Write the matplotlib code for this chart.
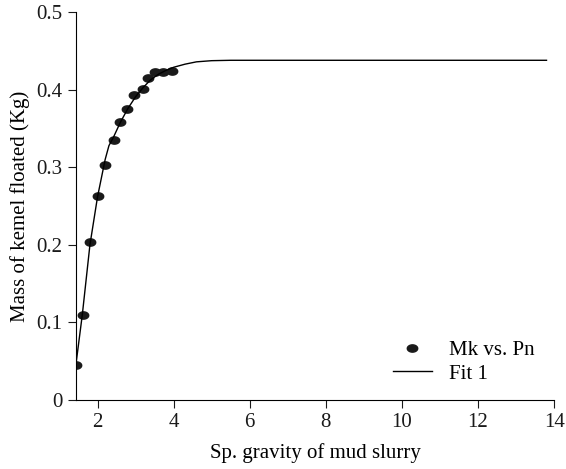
import numpy as np
import matplotlib.pyplot as plt
from matplotlib.path import Path

plt.rcParams['font.family'] = ['Liberation Serif', 'DejaVu Serif']

# measured points (Mk vs. Pn)
sp_gravity = [1.43, 1.62, 1.8, 2.02, 2.2, 2.42, 2.6, 2.78, 2.97, 3.2, 3.33, 3.52, 3.71, 3.95]
mass = [0.045, 0.110, 0.204, 0.263, 0.303, 0.335, 0.359, 0.375, 0.393, 0.401, 0.415, 0.423, 0.423, 0.424]

# fitted curve
fit_x = [1.43, 1.6, 1.8, 2.0, 2.2, 2.3, 2.42, 2.6, 2.8, 3.0, 3.2, 3.4, 3.6, 3.8,
         4.0, 4.3, 4.6, 5.0, 5.5, 13.8]
fit_y = [0.045, 0.110, 0.200, 0.262, 0.310, 0.328, 0.339, 0.358, 0.376, 0.391,
         0.403, 0.413, 0.420, 0.425, 0.429, 0.433, 0.436, 0.4375, 0.438, 0.438]

# slightly flattened dot
t = np.linspace(0, 2 * np.pi, 40)
ellipse = Path(np.column_stack([np.cos(t), 0.7 * np.sin(t)]), closed=True)

fig = plt.figure(figsize=(5.66, 4.69), dpi=100)
ax = fig.add_axes([0.134, 0.147, 0.845, 0.827])

ax.plot(sp_gravity, mass, linestyle='none', marker=ellipse, markersize=7.5,
        color='#1a1a1a', label='Mk vs. Pn')
ax.plot(fit_x, fit_y, color='black', linewidth=1.0, label='Fit 1')

ax.set_xlim(1.43, 14)
ax.set_ylim(0, 0.5)
ax.set_xticks([2, 4, 6, 8, 10, 12, 14])
ax.set_yticks([0, 0.1, 0.2, 0.3, 0.4, 0.5])
ax.set_yticklabels(['0', '0.1', '0.2', '0.3', '0.4', '0.5'])

for side in ['top', 'right']:
    ax.spines[side].set_visible(False)
ax.tick_params(direction='out', length=6, labelsize=15, colors='#1a1a1a')

ax.set_xlabel('Sp. gravity of mud slurry', fontsize=15, labelpad=8)
ax.set_ylabel('Mass of kemel floated (Kg)', fontsize=15, labelpad=5)

ax.legend(loc='lower left', bbox_to_anchor=(0.623, -0.006), frameon=False, fontsize=15,
          handlelength=1.9, handletextpad=0.8, labelspacing=0.2)

fig.savefig('out.png', dpi=100)
